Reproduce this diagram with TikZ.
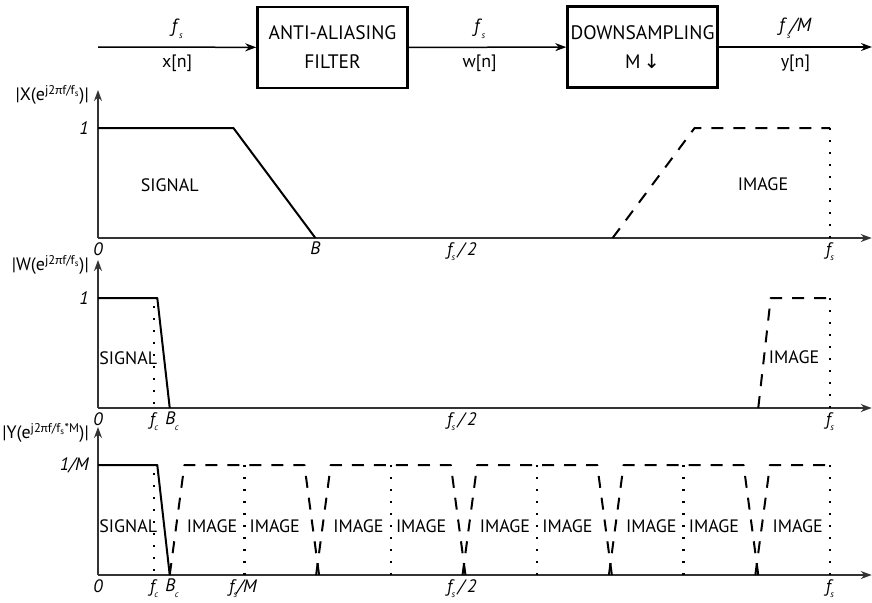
\documentclass[tikz,border=0pt]{standalone}
\usepackage{fontspec}
\setmainfont{PT Sans}
\newfontfamily\arrowfont{DejaVu Sans}
\newfontfamily\greekfont{Carlito}
\usetikzlibrary{arrows.meta}

% italic letter with a small lowered index
\newcommand{\fsub}[2]{\textit{#1}\kern-0.5pt\raisebox{-0.65ex}{\fontsize{9}{9}\selectfont\textit{#2}}}

\tikzset{
  lbl/.style={font=\fontsize{18}{22}\selectfont, inner sep=1pt},
  blockbox/.style={draw, line width=2.5pt, minimum width=150pt, minimum height=81pt, align=center, lbl, font=\fontsize{19.5}{22}\selectfont},
  sigarrow/.style={line width=1.5pt, -{Stealth[length=11pt,width=8pt]}},
  axis/.style={line width=1.5pt, black!80, -{Stealth[length=11pt,width=8pt]}},
  spec/.style={line width=2pt, line join=round},
  imgline/.style={spec, dash pattern=on 12pt off 10pt},
  dotline/.style={line width=2.4pt, dash pattern=on 2.4pt off 9.6pt},
  ticklbl/.style={lbl, anchor=north, yshift=-3pt, font=\fontsize{18}{22}\selectfont\itshape},
  levlbl/.style={lbl, anchor=east, font=\fontsize{18}{22}\selectfont\itshape},
  ylbl/.style={lbl, anchor=east},
  ratelbl/.style={lbl, above=7pt, font=\fontsize{19}{22}\selectfont},
  seqlbl/.style={lbl, below=6pt},
}

\begin{document}
\begin{tikzpicture}[x=1pt, y=-1pt]
\useasboundingbox (0,0) rectangle (872,602);

% Level of the passband and height of the vertical axes
\def\lvl{110}
\def\ytop{148}
\def\xend{1.057}

% Block diagram
\node[blockbox] (aaf) at (332.5,47.5) {ANTI-ALIASING\\[7pt]FILTER};
\node[blockbox] (down) at (642.5,47) {DOWNSAMPLING\\[7pt]M\,{\arrowfont ↓}};
\coordinate (xin) at (98,47);
\coordinate (yout) at (872,47);

\draw[sigarrow] (xin) -- node[ratelbl] (ratex) {\fsub{f}{s}}
    node[seqlbl] (seqx) {x[n]} (aaf);
\draw[sigarrow] (aaf) -- node[ratelbl, pos=0.45] (ratew) {\fsub{f}{s}}
    node[seqlbl, pos=0.45] (seqw) {w[n]} (down);
\draw[sigarrow] (down) -- node[ratelbl] (ratey) {\fsub{f}{s}\textit{/M}}
    node[seqlbl] (seqy) {y[n]} (yout);

% Spectrum of x[n]
\begin{scope}[shift={(98,238)}, x=732pt, y=1pt]
    \coordinate (o1) at (0,0);
    \coordinate (xa1) at (\xend,0);
    \coordinate (ya1) at (0,\ytop);
    \draw[axis] (o1) -- (xa1);
    \draw[axis] (o1) -- (ya1);
    \draw[spec] (0,\lvl) -- (0.185,\lvl) -- (0.297,0);
    \draw[imgline] (0.703,0) -- (0.815,\lvl) -- (1,\lvl);
    \draw[dotline] (1,\lvl) -- (1,0);
    \node[ylbl] (mag1) at ([xshift=-8pt]0,143) {|X(e\textsuperscript{j2{\greekfont π}f/f\textsubscript{s}})|};
    \node[levlbl] (one1) at ([xshift=-8pt]0,\lvl) {1};
    \node[lbl] (sig1) at (0.098,53) {SIGNAL};
    \node[lbl] (img1) at (0.9085,54) {IMAGE};
    \node[ticklbl] (zero1) at (o1) {0};
    \node[ticklbl] (band1) at (0.297,0) {B};
    \node[ticklbl] (half1) at (0.497,0) {\fsub{f}{s}\,/\,2};
    \node[ticklbl] (fs1) at (1,0) {\fsub{f}{s}};
\end{scope}

% Spectrum of w[n]
\begin{scope}[shift={(98,408)}, x=732pt, y=1pt]
    \coordinate (o2) at (0,0);
    \coordinate (xa2) at (\xend,0);
    \coordinate (ya2) at (0,\ytop);
    \draw[axis] (o2) -- (xa2);
    \draw[axis] (o2) -- (ya2);
    \draw[spec] (0,\lvl) -- (0.081,\lvl) -- (0.098,0);
    \draw[dotline] (0.0765,\lvl-8) -- (0.0765,0);
    \draw[imgline] (0.902,0) -- (0.919,\lvl) -- (1,\lvl);
    \draw[dotline] (1,\lvl) -- (1,0);
    \node[ylbl] (mag2) at ([xshift=-8pt]0,143) {|W(e\textsuperscript{j2{\greekfont π}f/f\textsubscript{s}})|};
    \node[levlbl] (one2) at ([xshift=-8pt]0,\lvl) {1};
    \node[lbl, anchor=east, inner sep=0pt] (sig2) at (0.081,50) {SIGNAL};
    \node[lbl, anchor=west] (img2) at (0.915,51) {IMAGE};
    \node[ticklbl] (zero2) at (o2) {0};
    \node[ticklbl] (fc2) at (0.0765,0) {\fsub{f}{c}};
    \node[ticklbl] (bc2) at (0.101,0) {\fsub{B}{c}};
    \node[ticklbl] (half2) at (0.497,0) {\fsub{f}{s}\,/\,2};
    \node[ticklbl] (fs2) at (1,0) {\fsub{f}{s}};
\end{scope}

% Spectrum of y[n]
\begin{scope}[shift={(98,575)}, x=732pt, y=1pt]
    \coordinate (o3) at (0,0);
    \coordinate (xa3) at (\xend,0);
    \coordinate (ya3) at (0,\ytop);
    \draw[axis] (o3) -- (xa3);
    \draw[axis] (o3) -- (ya3);
    \draw[spec] (0,\lvl) -- (0.081,\lvl) -- (0.098,0);
    \draw[dotline] (0.0765,\lvl-8) -- (0.0765,0);
    \foreach \k in {1,...,4} {
        \draw[imgline] ({\k/5-0.102},0) -- ({\k/5-0.082},\lvl)
            -- ({\k/5+0.082},\lvl) -- ({\k/5+0.102},0);
        \draw[dotline] (\k/5,\lvl) -- (\k/5,0);
        \node[lbl, anchor=east, xshift=-6pt] (imgL\k) at (\k/5,49) {IMAGE};
        \node[lbl, anchor=west, xshift=4pt] (imgR\k) at (\k/5,49) {IMAGE};
    }
    \draw[imgline] (0.898,0) -- (0.918,\lvl) -- (1,\lvl);
    \draw[dotline] (1,\lvl) -- (1,0);
    \node[lbl, anchor=east, xshift=-6pt] (imgL5) at (1,49) {IMAGE};
    \node[ylbl] (mag3) at ([xshift=-8pt]0,142) {|Y(e\textsuperscript{j2{\greekfont π}f/f\textsubscript{s}*M})|};
    \node[levlbl] (one3) at ([xshift=-8pt]0,\lvl) {1/M};
    \node[lbl, anchor=east, inner sep=0pt] (sig3) at (0.081,49) {SIGNAL};
    \node[ticklbl] (zero3) at (o3) {0};
    \node[ticklbl] (fc3) at (0.0765,0) {\fsub{f}{c}};
    \node[ticklbl] (bc3) at (0.101,0) {\fsub{B}{c}};
    \node[ticklbl] (fsm3) at (0.198,0) {\fsub{f}{s}\textit{/M}};
    \node[ticklbl] (half3) at (0.497,0) {\fsub{f}{s}\,/\,2};
    \node[ticklbl] (fs3) at (1,0) {\fsub{f}{s}};
\end{scope}

\end{tikzpicture}
\end{document}
